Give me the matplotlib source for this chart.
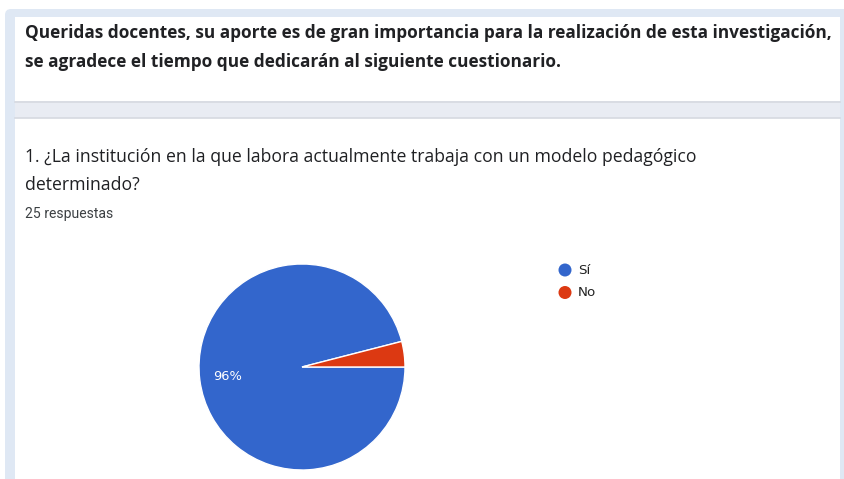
import matplotlib.pyplot as plt
from matplotlib.patches import Rectangle, FancyBboxPatch, Circle

# survey data
categories = ['Sí', 'No']
values = [24, 1]
colors = ['#3366cc', '#dc3912']
n_answers = 25

header = ['Queridas docentes, su aporte es de gran importancia para la realización de esta investigación,',
          'se agradece el tiempo que dedicarán al siguiente cuestionario.']
question = ['1. ¿La institución en la que labora actualmente trabaja con un modelo pedagógico',
            'determinado?']

W, H = 845, 479
fig = plt.figure(figsize=(W / 100, H / 100), dpi=100)
bg = fig.add_axes([0, 0, 1, 1])
bg.set_xlim(0, W)
bg.set_ylim(H, 0)
bg.axis('off')

# page background and cards
bg.add_patch(FancyBboxPatch((5, 9), W + 60, H + 40, boxstyle='round,pad=0,rounding_size=6',
                            fc='#dfe8f4', ec='none'))
bg.add_patch(Rectangle((15, 17), 825, 84, fc='white', ec='none'))
bg.add_patch(Rectangle((15, 101), 825, 17, fc='#e9ecf3', ec='none'))
bg.plot([15, 840], [101.5, 101.5], color='#d6d9e0', lw=1.2)
bg.plot([15, 840], [117.5, 117.5], color='#d6d9e0', lw=1.2)
bg.add_patch(Rectangle((15, 118), 825, H, fc='white', ec='none'))

for i, line in enumerate(header):
    bg.text(25, 33 + i * 29, line, fontsize=12.45, fontweight='bold', family='Open Sans',
            color='#202124', va='center')
for i, line in enumerate(question):
    bg.text(25, 157 + i * 28, line, fontsize=12.7, family='Open Sans', color='#202124',
            va='center')
bg.text(25, 214, f'{n_answers} respuestas', fontsize=10.1, family='Roboto',
        color='#3c4043', va='center')

# legend
for i, (lab, col) in enumerate(zip(categories, colors)):
    y = 270 + i * 22.5
    bg.add_patch(Circle((565, y), 6.5, fc=col, ec='none'))
    bg.text(578, y, lab, fontsize=9.6, family='Arial', color='#222222', va='center')

# pie
cx, cy, r = 302, 367, 103
pax = fig.add_axes([(cx - r) / W, (H - cy - r) / H, 2 * r / W, 2 * r / H])
start = 360 * values[1] / sum(values)
wedges, texts, autotexts = pax.pie(
    values, colors=colors, startangle=start, counterclock=True,
    wedgeprops=dict(edgecolor='white', linewidth=1),
    autopct=lambda p: f'{p:.0f}%' if p > 10 else '', pctdistance=0.73,
    textprops=dict(color='white', fontsize=9.4, family='Arial'))
pax.set_xlim(-1, 1)
pax.set_ylim(-1, 1)
pax.axis('off')

fig.savefig('out.png', dpi=100)
